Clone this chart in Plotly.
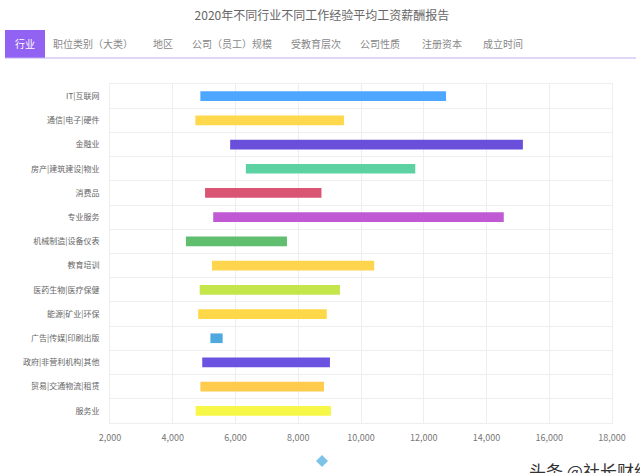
import plotly.graph_objects as go

industries = ["IT|互联网", "通信|电子|硬件", "金融业", "房产|建筑建设|物业", "消费品", "专业服务",
              "机械制造|设备仪表", "教育培训", "医药生物|医疗保健", "能源|矿业|环保", "广告|传媒|印刷出版",
              "政府|非营利机构|其他", "贸易|交通物流|租赁", "服务业"]
salary_min = [4880, 4720, 5830, 6330, 5030, 5290, 4420, 5250, 4860, 4810, 5200, 4940, 4880, 4730]
salary_max = [12710, 9460, 15160, 11730, 8740, 14550, 7640, 10420, 9330, 8910, 5590, 9010, 8820, 9040]
bar_colors = ["#4da6ff", "#ffd84d", "#6a4fdb", "#5cd1a2", "#d95573", "#c158d4", "#5fbf6e",
              "#ffd54d", "#c5e64a", "#ffd84a", "#4ea9de", "#6b52e0", "#ffcb4d", "#f7f748"]
tabs = ["职位类别（大类）", "地区", "公司（员工）规模", "受教育层次", "公司性质", "注册资本", "成立时间"]
tab_x = [93, 163, 232, 316, 380, 442, 503]

FONT = "Noto Sans CJK SC"
W, H = 640, 473

fig = go.Figure()
fig.add_trace(go.Bar(
    y=industries,
    x=[b - a for a, b in zip(salary_min, salary_max)],
    base=salary_min,
    orientation="h",
    marker=dict(color=bar_colors, line=dict(width=0)),
    width=0.4,
    hovertemplate="%{y}: %{base:,} - %{x:,}<extra></extra>",
))

fig.update_layout(
    width=W, height=H,
    margin=dict(l=110, r=28, t=84, b=50),
    paper_bgcolor="white", plot_bgcolor="white",
    showlegend=False,
    font=dict(family=FONT, size=9, color="#555"),
    title=dict(text="2020年不同行业不同工作经验平均工资薪酬报告", x=0.503, xanchor="center",
               y=1 - 16 / H, yanchor="middle", font=dict(family=FONT, size=12, color="#666")),
    xaxis=dict(range=[2000, 18000], dtick=2000, tickformat=",d", showgrid=True,
               gridcolor="#eeeeee", gridwidth=1, zeroline=False, showline=True, mirror=True,
               linecolor="#eeeeee", ticks="", ticklabelstandoff=6,
               tickfont=dict(family=FONT, size=9, color="#777")),
    yaxis=dict(type="category", autorange="reversed", tickson="boundaries", showgrid=True,
               gridcolor="#eeeeee", gridwidth=1, showline=True, mirror=True, linecolor="#eeeeee",
               ticks="", ticklabelstandoff=8, tickfont=dict(family=FONT, size=8, color="#666")),
)


def px_to_paper(px, py):
    return (px - 110) / (W - 138), (H - py - 50) / (H - 134)


# tab bar
tx0, ty0 = px_to_paper(5, 58)
tx1, ty1 = px_to_paper(45, 30)
fig.add_shape(type="rect", xref="paper", yref="paper", x0=tx0, x1=tx1, y0=ty0, y1=ty1,
              fillcolor="#9262f2", line=dict(width=0), layer="above")
lx1, _ = px_to_paper(636, 58)
fig.add_shape(type="line", xref="paper", yref="paper", x0=tx0, x1=lx1, y0=ty0, y1=ty0,
              line=dict(color="#c0aef5", width=1.2))

xx, yy = px_to_paper(25, 44)
fig.add_annotation(x=xx, y=yy, xref="paper", yref="paper", text="行业", showarrow=False,
                   font=dict(family=FONT, size=10, color="white"), xanchor="center", yanchor="middle")
for t, tx in zip(tabs, tab_x):
    xx, yy = px_to_paper(tx, 44)
    fig.add_annotation(x=xx, y=yy, xref="paper", yref="paper", text=t, showarrow=False,
                       font=dict(family=FONT, size=10, color="#888"), xanchor="center", yanchor="middle")

# slider diamond
xc, yc = px_to_paper(322, 461)
xl, _ = px_to_paper(316, 461)
xr, _ = px_to_paper(328, 461)
_, yt = px_to_paper(322, 455)
_, yb = px_to_paper(322, 467)
fig.add_shape(type="path", xref="paper", yref="paper",
              path=f"M {xl} {yc} L {xc} {yt} L {xr} {yc} L {xc} {yb} Z",
              fillcolor="#7dc3e8", line=dict(width=0))

# watermark
xw, yw = px_to_paper(527, 456)
fig.add_annotation(x=xw, y=yw, xref="paper", yref="paper", text="头条 @社长财经", showarrow=False,
                   font=dict(family=FONT, size=17, color="#333"), xanchor="left", yanchor="top")

fig.write_html("out.html", config={"displayModeBar": False},
               post_script="document.body.style.margin='0';")
